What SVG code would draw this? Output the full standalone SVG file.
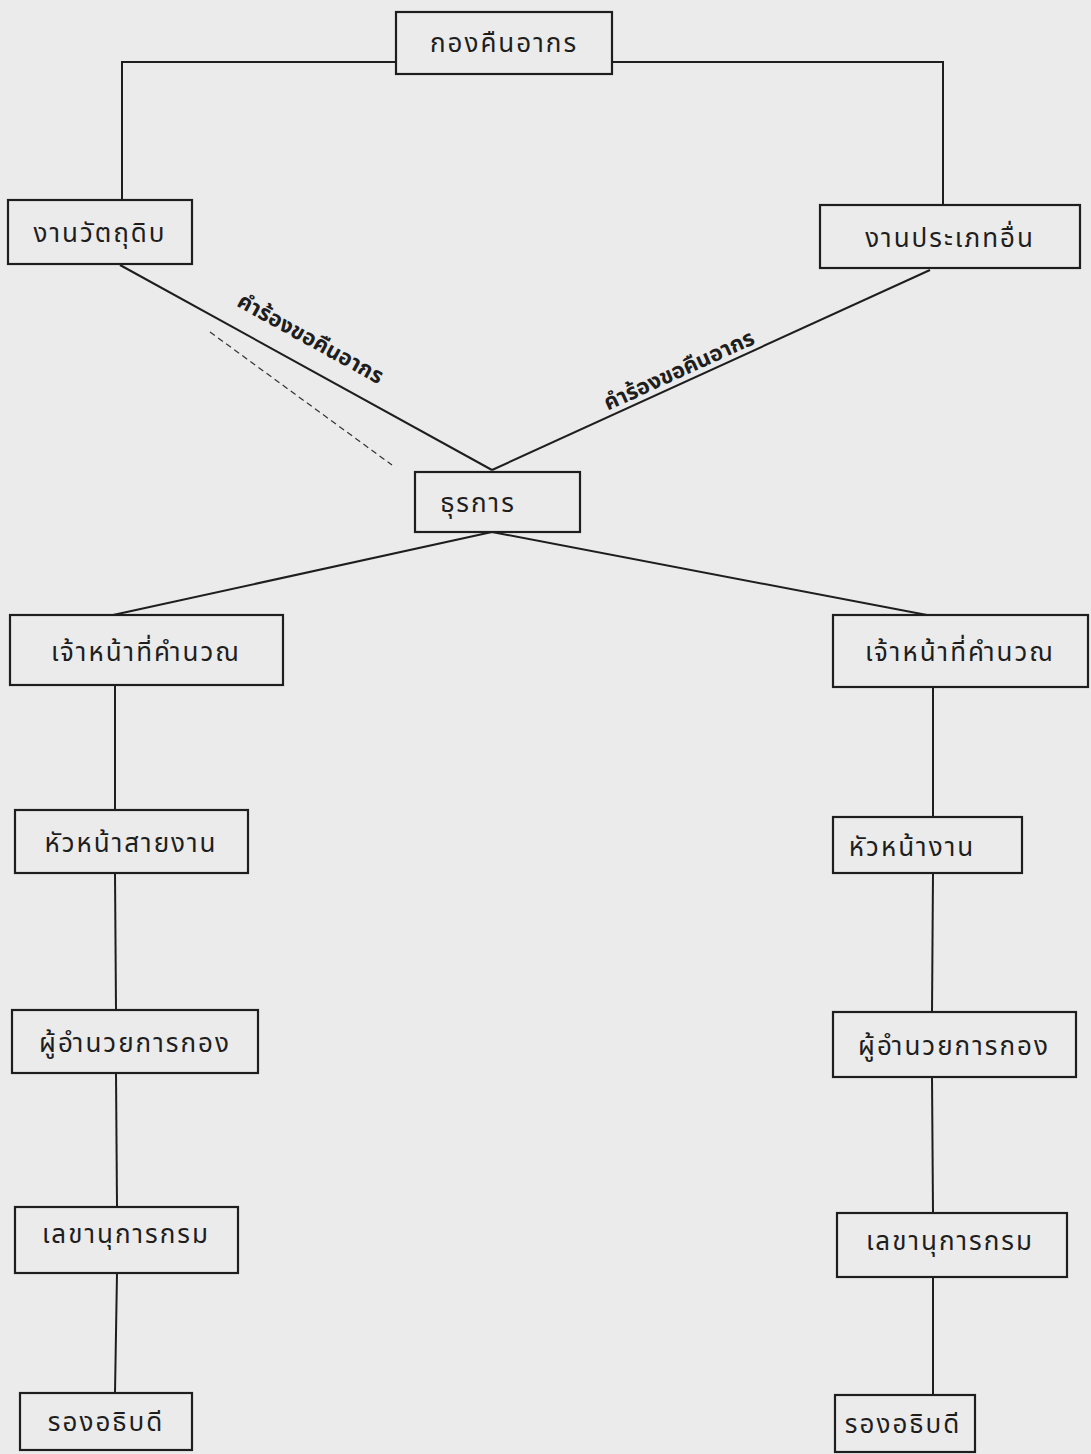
<svg xmlns="http://www.w3.org/2000/svg" width="1091" height="1454" viewBox="0 0 1091 1454">
<style>
.box{fill:none;stroke:#1e1e1e;stroke-width:2.2}
.t{font-family:"Noto Sans","Noto Sans Thai","DejaVu Sans",sans-serif;font-size:26px;fill:#1e1e1e;text-anchor:middle;letter-spacing:2px}
.lbl{font-family:"Noto Sans","Noto Sans Thai","DejaVu Sans",sans-serif;font-size:22px;font-weight:bold;fill:#1e1e1e;text-anchor:middle}
.c{fill:none;stroke:#1e1e1e;stroke-width:2}
</style>
<rect x="0" y="0" width="1091" height="1454" fill="#ebebeb"/>
<g id="connectors">
<polyline class="c" points="396,62 122,62 122,200"/>
<polyline class="c" points="612,62 943,62 943,205"/>
<line class="c" x1="120" y1="265" x2="492" y2="470"/>
<line class="c" x1="930" y1="270" x2="492" y2="470"/>
<line x1="210" y1="332" x2="392" y2="465" stroke="#333" stroke-width="1.2" stroke-dasharray="6,4"/>
<line class="c" x1="492" y1="532" x2="113" y2="615"/>
<line class="c" x1="492" y1="532" x2="927" y2="615"/>
<line class="c" x1="115" y1="685" x2="115" y2="810"/>
<line class="c" x1="115" y1="873" x2="116" y2="1010"/>
<line class="c" x1="116" y1="1073" x2="117" y2="1207"/>
<line class="c" x1="117" y1="1273" x2="115" y2="1393"/>
<line class="c" x1="933" y1="687" x2="933" y2="817"/>
<line class="c" x1="933" y1="873" x2="932" y2="1012"/>
<line class="c" x1="932" y1="1077" x2="933" y2="1213"/>
<line class="c" x1="933" y1="1277" x2="933" y2="1395"/>
<text class="lbl" transform="translate(307,345) rotate(28.9)">คำร้องขอคืนอากร</text>
<text class="lbl" transform="translate(682,377) rotate(-24.5)">คำร้องขอคืนอากร</text>
</g>
<g id="n-top"><rect class="box" x="396" y="12" width="216" height="62"/><text class="t" x="504" y="52">กองคืนอากร</text></g>
<g id="n-raw"><rect class="box" x="8" y="200" width="184" height="64"/><text class="t" x="100" y="242">งานวัตถุดิบ</text></g>
<g id="n-other"><rect class="box" x="820" y="205" width="260" height="63"/><text class="t" x="950" y="247">งานประเภทอื่น</text></g>
<g id="n-admin"><rect class="box" x="415" y="472" width="165" height="60"/><text class="t" x="478" y="512">ธุรการ</text></g>
<g id="n-calc-l"><rect class="box" x="10" y="615" width="273" height="70"/><text class="t" x="146" y="661">เจ้าหน้าที่คำนวณ</text></g>
<g id="n-calc-r"><rect class="box" x="833" y="615" width="255" height="72"/><text class="t" x="960" y="661">เจ้าหน้าที่คำนวณ</text></g>
<g id="n-head-l"><rect class="box" x="15" y="810" width="233" height="63"/><text class="t" x="131" y="852">หัวหน้าสายงาน</text></g>
<g id="n-head-r"><rect class="box" x="833" y="817" width="189" height="56"/><text class="t" x="912" y="856">หัวหน้างาน</text></g>
<g id="n-dir-l"><rect class="box" x="12" y="1010" width="246" height="63"/><text class="t" x="135" y="1052">ผู้อำนวยการกอง</text></g>
<g id="n-dir-r"><rect class="box" x="833" y="1012" width="243" height="65"/><text class="t" x="954" y="1055">ผู้อำนวยการกอง</text></g>
<g id="n-sec-l"><rect class="box" x="15" y="1207" width="223" height="66"/><text class="t" x="126" y="1243">เลขานุการกรม</text></g>
<g id="n-sec-r"><rect class="box" x="837" y="1213" width="230" height="64"/><text class="t" x="950" y="1250">เลขานุการกรม</text></g>
<g id="n-dep-l"><rect class="box" x="20" y="1393" width="172" height="57"/><text class="t" x="106" y="1431">รองอธิบดี</text></g>
<g id="n-dep-r"><rect class="box" x="835" y="1395" width="140" height="57"/><text class="t" x="903" y="1433">รองอธิบดี</text></g>
</svg>
